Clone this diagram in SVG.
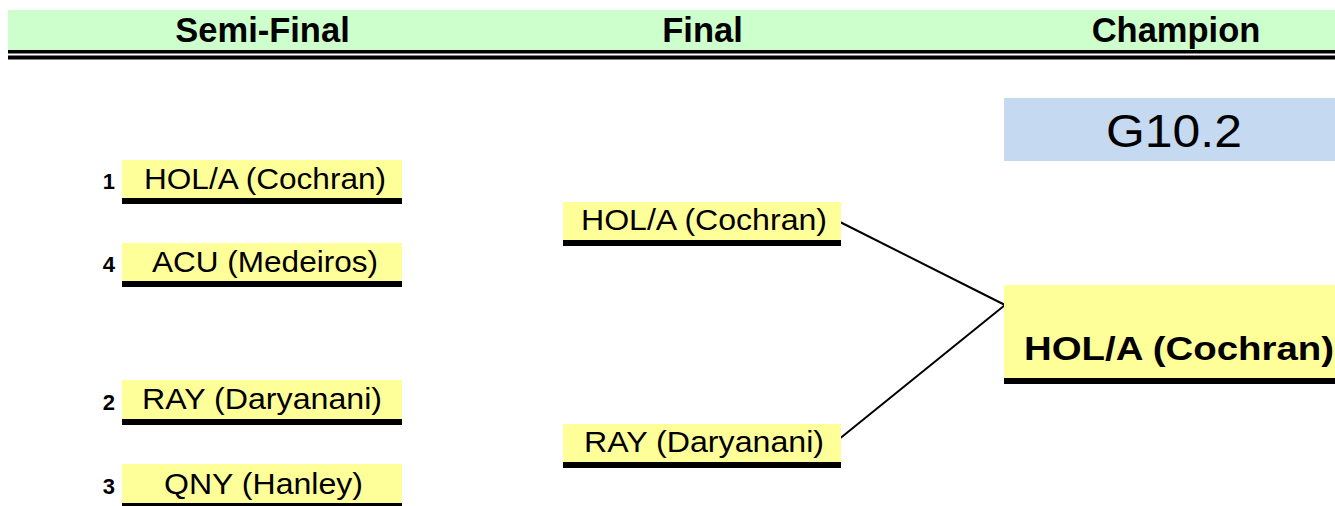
<svg xmlns="http://www.w3.org/2000/svg" width="1335" height="506" viewBox="0 0 1335 506">
<style>
.hdr{font-family:"Liberation Sans",Arial,sans-serif;font-weight:bold;font-size:34.5px;fill:#000;text-anchor:middle}
.team{font-family:"Liberation Sans",Arial,sans-serif;font-size:29px;fill:#000}
.seed{font-family:"Liberation Sans",Arial,sans-serif;font-weight:bold;font-size:22px;fill:#000;text-anchor:end}
.box{fill:#ffff99}
.bar{fill:#000}
.conn{stroke:#000;stroke-width:2;fill:none}
</style>
<rect width="1335" height="506" fill="#fff"/>
<g id="header">
<rect x="8" y="10" width="1327" height="40" fill="#ccffcc"/>
<rect x="8" y="50" width="1327" height="3.5" fill="#000"/>
<rect x="8" y="55.5" width="1327" height="4" fill="#000"/>
<text class="hdr" x="262.5" y="42">Semi-Final</text>
<text class="hdr" x="702.5" y="42">Final</text>
<text class="hdr" x="1176" y="42">Champion</text>
</g>
<g id="label-g10">
<rect x="1004" y="98" width="331" height="63" fill="#c5d9f1"/>
<text x="1106" y="147" font-family="Liberation Sans, Arial, sans-serif" font-size="46" textLength="136" lengthAdjust="spacingAndGlyphs">G10.2</text>
</g>
<g id="connectors">
<line class="conn" x1="838" y1="221" x2="1005" y2="305"/>
<line class="conn" x1="838" y1="440" x2="1005" y2="305"/>
</g>
<g id="semi1">
<rect class="box" x="122" y="160" width="280" height="38"/>
<rect class="bar" x="122" y="198" width="280" height="6"/>
<text class="seed" x="115" y="189">1</text>
<text class="team" x="144" y="189" textLength="242" lengthAdjust="spacingAndGlyphs">HOL/A (Cochran)</text>
</g>
<g id="semi4">
<rect class="box" x="122" y="243" width="280" height="38"/>
<rect class="bar" x="122" y="281" width="280" height="6"/>
<text class="seed" x="115" y="272">4</text>
<text class="team" x="152" y="272" textLength="226" lengthAdjust="spacingAndGlyphs">ACU (Medeiros)</text>
</g>
<g id="semi2">
<rect class="box" x="122" y="380" width="280" height="39"/>
<rect class="bar" x="122" y="419" width="280" height="6"/>
<text class="seed" x="115" y="410">2</text>
<text class="team" x="142" y="409" textLength="240" lengthAdjust="spacingAndGlyphs">RAY (Daryanani)</text>
</g>
<g id="semi3">
<rect class="box" x="122" y="464" width="280" height="39"/>
<rect class="bar" x="122" y="503" width="280" height="3"/>
<text class="seed" x="115" y="494">3</text>
<text class="team" x="164" y="494" textLength="199" lengthAdjust="spacingAndGlyphs">QNY (Hanley)</text>
</g>
<g id="final1">
<rect class="box" x="563" y="202" width="278" height="38"/>
<rect class="bar" x="563" y="240" width="278" height="6"/>
<text class="team" x="581" y="230" textLength="246" lengthAdjust="spacingAndGlyphs">HOL/A (Cochran)</text>
</g>
<g id="final2">
<rect class="box" x="563" y="424" width="278" height="38"/>
<rect class="bar" x="563" y="462" width="278" height="6"/>
<text class="team" x="584" y="452" textLength="240" lengthAdjust="spacingAndGlyphs">RAY (Daryanani)</text>
</g>
<g id="champion">
<rect class="box" x="1004" y="285" width="331" height="93"/>
<rect class="bar" x="1004" y="378" width="331" height="6"/>
<text x="1024" y="360" font-family="Liberation Sans, Arial, sans-serif" font-weight="bold" font-size="33" textLength="310" lengthAdjust="spacingAndGlyphs">HOL/A (Cochran)</text>
</g>
</svg>
